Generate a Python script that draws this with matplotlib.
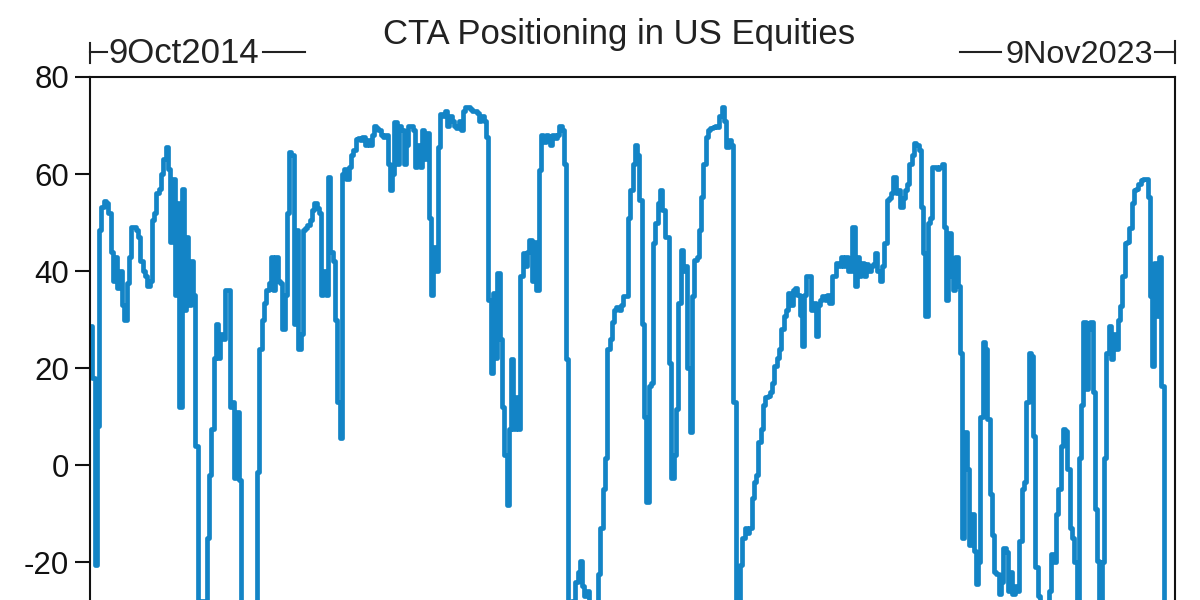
import matplotlib

matplotlib.use("Agg")
import matplotlib.pyplot as plt
import pandas as pd
from matplotlib.lines import Line2D

# weekly CTA positioning readings, starting 9 Oct 2014
start_date = "2014-10-09"
end_date = "2023-11-09"
positioning = [
    28.7, 18.0, -20.5, 8, 48.5, 53.3, 54.5, 54, 52, 44,
    38, 43, 36.5, 40, 33, 30, 37.6, 43, 49, 49,
    48.5, 47, 42, 40, 39, 37, 38, 50.5, 52, 56,
    57, 60, 63, 65.6, 61, 46, 59, 35, 54, 12,
    57, 32, 47, 33, 42, 35, 4, -32, -35, -28,
    -28, -15, -2, 7.5, 22, 29, 22, 27, 26, 36,
    36, 12, 13, -2.7, 11, -3, -35, -42, -45, -44,
    -40, -36, -30, -1.4, 24, 30, 33.5, 36, 37.6, 43,
    36, 43, 38, 37.6, 28, 35, 52, 64.5, 64, 29,
    48.5, 24, 27, 48.5, 48.8, 49.5, 50.5, 52.5, 54, 53,
    52, 35, 40, 35, 59.4, 44, 42, 30, 13, 5.5,
    60, 61, 59, 61.5, 64, 65, 67.3, 67.5, 67, 67.6,
    66, 67, 66, 68, 70, 69.5, 69, 68, 67.6, 68,
    62, 56.7, 60, 70.7, 62, 70, 69, 62, 66, 70,
    70, 69, 61.5, 66, 61.5, 69, 63, 68.5, 51, 35,
    45, 40, 65.5, 72.4, 72, 73, 70, 72, 71, 70,
    69.5, 71, 69, 73, 73.8, 73.8, 73.5, 73, 73, 72.5,
    71, 72, 71, 67.6, 34, 19, 35.5, 22, 39.6, 26,
    12, 2, -8.2, 7.5, 21.9, 7.5, 14, 7.5, 39, 43.7,
    41, 44, 46.4, 38, 46, 36, 60.8, 68, 66.5, 68,
    67, 66, 68, 67.5, 68, 70, 69, 62, 21.9, -30,
    -35, -28, -24, -22, -19.8, -25, -27, -26, -30, -33,
    -35, -30, -22.5, -13, -5, 1.4, 24, 26, 29.4, 32,
    32.5, 32, 33, 34.8, 34.8, 51, 56.7, 62, 66, 64,
    54.6, 29, 10, -7.5, 16.4, 17, 45.8, 50, 54, 56.7,
    52.6, 47, 47, 21, -2.7, 2, 11.6, 33.5, 44.4, 40,
    41, 20, 6.8, 34.8, 42.3, 43, 48.5, 55.3, 62, 67.6,
    69, 69.5, 69.7, 70, 69.7, 72, 73.8, 71, 65.6, 67,
    66, 13, -32, -35, -20.5, -15, -13, -14, -13, -6.8,
    -3.4, -2, 4.8, 7.5, 12.3, 14, 14.3, 15, 17, 20.5,
    22, 24, 28, 30.7, 32, 35.5, 33, 36, 36.5, 35,
    31, 24.6, 35, 39, 39, 32, 33.5, 26.6, 33, 34,
    34.8, 34, 35, 33.5, 39, 39, 41.7, 41, 43, 41,
    43, 40, 40, 49, 37, 43, 39, 41.7, 39, 41.5,
    40, 41, 41.5, 43.7, 40, 38, 41, 45.8, 54.6, 55,
    56, 59.4, 56, 56.7, 53.3, 55, 56.7, 58, 62, 64,
    66.3, 66, 65, 53.3, 43.7, 30.7, 50, 51, 61.5, 61.5,
    61, 61.5, 62, 49, 34, 47.8, 39, 36, 43, 37,
    23.2, -15, 6.8, -0.7, -16.4, -10, -17.8, -24.6, -20, 10,
    25.3, 24, 9.5, -6, -14.3, -22, -22.5, -26.6, -24, -17,
    -18, -26, -22, -26.6, -25, -26, -15.7, -5, -3.4, 13,
    23.2, 22.5, 6, -21, -27, -30, -31, -32, -30, -26,
    -18.4, -20, -10, -5, 4, 7.5, 7, -0.7, -13, -15,
    -20, -30, 1.4, 12.3, 29.4, 15.7, 28, 29.4, 15, -9,
    -19.8, -28, -20, 1.4, 23.2, 28.7, 21.9, 27, 24, 30,
    32.8, 39, 45.8, 46, 48.8, 54, 56.7, 57, 58, 58.7,
    59, 59, 55.3, 34.8, 20.5, 41.7, 30.7, 43, 16.4, -35,
]
y_ticks = [80, 60, 40, 20, 0, -20]
title = "CTA Positioning in US Equities"

dates = pd.date_range(start_date, periods=len(positioning), freq="7D")

plt.rcParams["font.family"] = ["Liberation Sans", "DejaVu Sans"]
plt.rcParams["axes.unicode_minus"] = False

fig = plt.figure(figsize=(12, 6), dpi=100)
ax = fig.add_axes([90 / 1200, 0.0, 1085 / 1200, 523 / 600])

ax.plot(dates, positioning, color="#1384c6", linewidth=3.4, drawstyle="steps-post")

ax.set_xlim(pd.Timestamp(start_date), pd.Timestamp(end_date))
ax.set_ylim(-27.8, 80)
ax.set_yticks(y_ticks)
ax.set_yticklabels([str(t) for t in y_ticks])
ax.set_xticks([])
ax.tick_params(axis="y", length=11, width=1.5, pad=4, labelsize=22.5, colors="#111111")
for side in ("top", "left", "right"):
    ax.spines[side].set_linewidth(1.5)
    ax.spines[side].set_color("#111111")
ax.spines["bottom"].set_visible(False)

# title and the date-range brackets above the frame
fig.text(619 / 1200, 1 - 44 / 600, title, ha="center", va="baseline", fontsize=25, color="#222222")


def fy(py):
    return 1 - py / 600


def fx(px):
    return px / 1200


bracket_style = dict(color="#222222", linewidth=1.5, transform=fig.transFigure)
fig.add_artist(Line2D([fx(90), fx(90)], [fy(43), fy(63)], **bracket_style))
fig.add_artist(Line2D([fx(90), fx(107)], [fy(52), fy(52)], **bracket_style))
fig.add_artist(Line2D([fx(263), fx(305)], [fy(52), fy(52)], **bracket_style))
fig.text(fx(108), fy(63), "9Oct2014", ha="left", va="baseline", fontsize=25, color="#222222")

fig.add_artist(Line2D([fx(960), fx(1001)], [fy(52), fy(52)], **bracket_style))
fig.add_artist(Line2D([fx(1155), fx(1175)], [fy(52), fy(52)], **bracket_style))
fig.add_artist(Line2D([fx(1175), fx(1175)], [fy(41), fy(63)], **bracket_style))
fig.text(fx(1153), fy(63), "9Nov2023", ha="right", va="baseline", fontsize=23.3, color="#222222")

fig.savefig("out.png", dpi=100)
plt.close(fig)
